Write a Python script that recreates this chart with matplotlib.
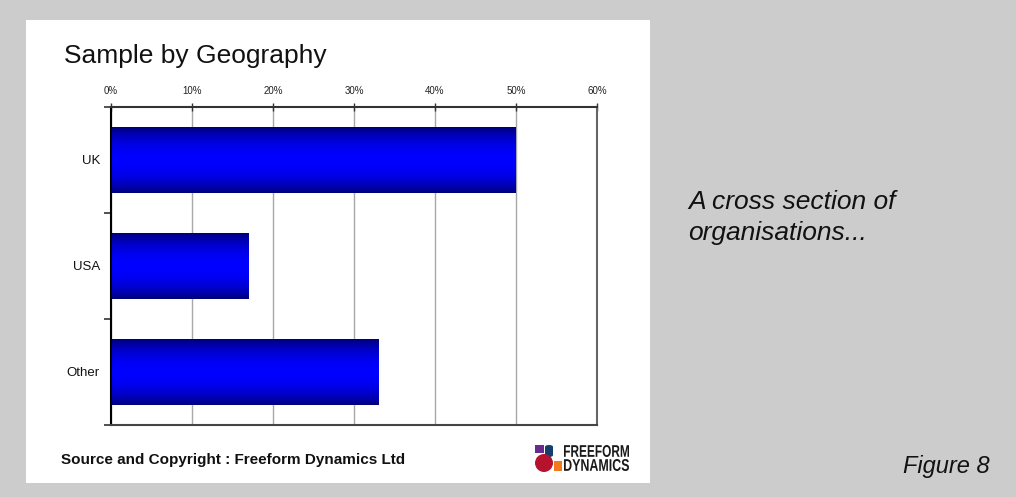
import numpy as np
import matplotlib
matplotlib.use('Agg')
import matplotlib.pyplot as plt
from matplotlib.colors import LinearSegmentedColormap
from matplotlib.font_manager import FontProperties
from matplotlib.patches import Rectangle, Circle, FancyBboxPatch, PathPatch
from matplotlib.textpath import TextPath
from matplotlib.transforms import Affine2D

plt.rcParams['font.family'] = ['Liberation Sans', 'DejaVu Sans']

# sample share by region
regions = ['UK', 'USA', 'Other']
shares = [0.50, 0.17, 0.33]
xticks = [0.0, 0.1, 0.2, 0.3, 0.4, 0.5, 0.6]
xtick_labels = ['0%', '10%', '20%', '30%', '40%', '50%', '60%']

W, H = 1016, 497


def fx(px):
    return px / W


def fy(py):
    return 1 - py / H


fig = plt.figure(figsize=(W / 100, H / 100), dpi=100)
fig.patch.set_facecolor('#cccccc')

# white card behind the chart
fig.patches.append(Rectangle((fx(26), fy(483)), fx(650) - fx(26), fy(20) - fy(483),
                             transform=fig.transFigure, facecolor='white',
                             edgecolor='none', zorder=-1))

ax = fig.add_axes([fx(111), fy(425), fx(597) - fx(111), fy(107) - fy(425)])
ax.set_facecolor('white')

y_pos = np.arange(len(regions))
bars = ax.barh(y_pos, shares, height=0.62, color='none', edgecolor='none', zorder=2)

# navy -> blue -> navy shading across each bar
cmap = LinearSegmentedColormap.from_list('bar', ['#000070', '#0000ff'])
t = np.linspace(0, 1, 256)
grad = (np.sin(np.pi * t) ** 0.7).reshape(-1, 1)
for b in bars:
    x0, y0 = b.get_xy()
    ax.imshow(grad, extent=(x0, x0 + b.get_width(), y0 + b.get_height(), y0),
              aspect='auto', cmap=cmap, vmin=0, vmax=1, zorder=2,
              interpolation='bilinear')

ax.set_xlim(0, 0.6)
ax.set_ylim(2.5, -0.5)

ax.xaxis.tick_top()
ax.set_xticks(xticks, labels=xtick_labels)
ax.tick_params(axis='x', direction='inout', length=6, width=1, color='#333333',
               labelsize=7, pad=5, labelcolor='#222222')
ax.grid(axis='x', color='#a8a8a8', linewidth=1, zorder=1)
ax.set_axisbelow(True)

ax.set_yticks(y_pos, labels=regions)
ax.set_yticks([-0.5, 0.5, 1.5, 2.5], minor=True)
ax.tick_params(axis='y', which='major', length=0, pad=8, labelsize=9.5,
               labelcolor='#111111')
ax.tick_params(axis='y', which='minor', direction='out', length=5, width=1.2,
               color='#333333')

ax.spines['left'].set_color('#000000')
ax.spines['top'].set_color('#333333')
ax.spines['bottom'].set_color('#444444')
ax.spines['right'].set_color('#666666')
for s in ax.spines.values():
    s.set_linewidth(1.5)
    s.set_zorder(3)

fig.text(fx(64), fy(63), 'Sample by Geography', fontsize=19, va='baseline',
         color='#111111')
fig.text(fx(61), fy(464), 'Source and Copyright : Freeform Dynamics Ltd',
         fontsize=11, fontweight='bold', va='baseline', color='#111111')

fig.text(fx(688), fy(209), 'A cross section of', fontsize=19, style='italic',
         va='baseline', color='#111111')
fig.text(fx(688), fy(240), 'organisations...', fontsize=19, style='italic',
         va='baseline', color='#111111')
fig.text(fx(903), fy(473), 'Figure 8', fontsize=17, style='italic',
         va='baseline', color='#111111')

# company logo
logo = [
    Rectangle((fx(535), fy(453)), fx(544) - fx(535), fy(445) - fy(453),
              facecolor='#6b2a8e', edgecolor='none'),
    FancyBboxPatch((fx(545), fy(457)), fx(553) - fx(545), fy(445) - fy(457),
                   boxstyle='round,pad=0,rounding_size=0.004',
                   facecolor='#123f6e', edgecolor='none'),
    Rectangle((fx(554), fy(471)), fx(562) - fx(554), fy(461) - fy(471),
              facecolor='#f07a1e', edgecolor='none'),
]
for p in logo:
    p.set_transform(fig.transFigure)
    fig.patches.append(p)
circ = Circle((544, H - 463), 9, transform=Affine2D().scale(1 / W, 1 / H) + fig.transFigure,
              facecolor='#b5122e', edgecolor='none')
fig.patches.append(circ)

bold = FontProperties(family='Liberation Sans', weight='bold')
for word, top, bottom in [('FREEFORM', 445, 457), ('DYNAMICS', 459, 471)]:
    tp = TextPath((0, 0), word, size=1, prop=bold)
    ext = tp.get_extents()
    sx = (629 - 564) / ext.width
    sy = (bottom - top) / ext.height
    tr = (Affine2D().translate(-ext.x0, -ext.y0).scale(sx, sy)
          .translate(564, H - bottom).scale(1 / W, 1 / H) + fig.transFigure)
    fig.patches.append(PathPatch(tp, transform=tr, facecolor='#1a1a1a',
                                 edgecolor='none'))

fig.savefig('out.png', dpi=100, facecolor=fig.get_facecolor())
